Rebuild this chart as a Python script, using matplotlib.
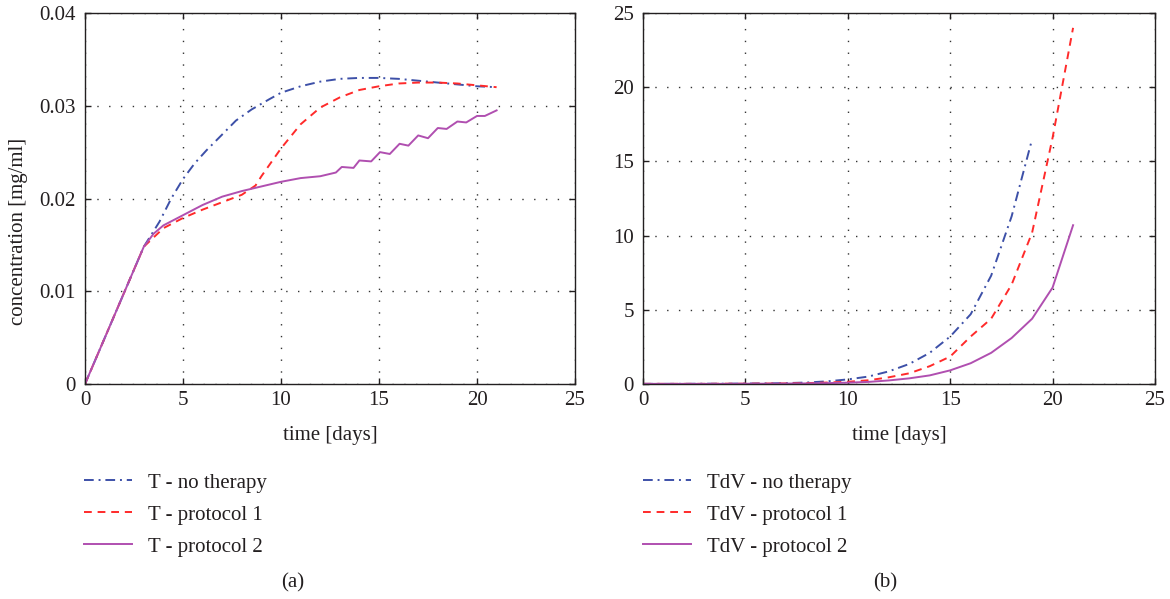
import matplotlib
matplotlib.use('Agg')
import matplotlib.pyplot as plt

# ---- data ----
# (a) T concentration [mg/ml]
t_a_none = [0, 3, 3.8, 4.4, 5, 5.6, 6.2, 7, 7.7, 8.5, 9.4, 10, 11, 12, 13, 14, 15, 16, 17, 18, 19, 20, 21]
T_none = [0, 0.0148, 0.0175, 0.0200, 0.0221, 0.0238, 0.0252, 0.0269, 0.0284, 0.0296, 0.0307, 0.0314,
          0.0321, 0.0326, 0.0329, 0.0330, 0.0330, 0.0329, 0.0327, 0.0325, 0.0323, 0.0321, 0.0320]

t_a_p1 = [0, 3, 4, 5, 6, 7, 8, 8.7, 9, 10, 11, 12, 13, 14, 15, 16, 17, 18, 19, 20, 21]
T_p1 = [0, 0.0148, 0.0168, 0.0179, 0.0188, 0.0196, 0.0204, 0.0214, 0.0224, 0.0254, 0.0280, 0.0298,
        0.0309, 0.0317, 0.0321, 0.0324, 0.0325, 0.0325, 0.0324, 0.0322, 0.0320]

t_a_p2 = [0, 3, 3.5, 4, 5, 6, 7, 8, 9, 10, 11, 12, 12.8, 13.1, 13.7, 14.0, 14.6, 15.05, 15.55, 16.05, 16.5,
          17.0, 17.5, 18.0, 18.45, 19.0, 19.45, 20.0, 20.4, 21.0]
T_p2 = [0, 0.0148, 0.0162, 0.0171, 0.0182, 0.0193, 0.0202, 0.0208, 0.0213, 0.0218, 0.0222, 0.0224, 0.0228,
        0.0234, 0.0233, 0.0241, 0.0240, 0.0250, 0.0248, 0.0259, 0.0257, 0.0268, 0.0265, 0.0276,
        0.0275, 0.0283, 0.0282, 0.0289, 0.0289, 0.0295]

# (b) TdV
t_b_none = list(range(0, 20))
TdV_none = [0.01, 0.01, 0.01, 0.02, 0.02, 0.03, 0.04, 0.06, 0.1, 0.18, 0.31, 0.5, 0.85, 1.35, 2.1,
            3.2, 4.7, 7.3, 11.3, 16.5]
t_b = list(range(0, 22))
TdV_p1 = [0.01, 0.01, 0.01, 0.01, 0.02, 0.02, 0.03, 0.04, 0.06, 0.1, 0.15, 0.25, 0.45, 0.72, 1.2,
          1.85, 3.2, 4.4, 6.7, 10.2, 16.6, 24.0]
TdV_p2 = [0.01, 0.01, 0.01, 0.01, 0.01, 0.02, 0.02, 0.03, 0.04, 0.06, 0.09, 0.14, 0.24, 0.38, 0.58,
          0.92, 1.4, 2.1, 3.1, 4.4, 6.5, 10.7]

x_ticks = [0, 5, 10, 15, 20, 25]
y_ticks_a = [0, 0.01, 0.02, 0.03, 0.04]
y_ticklabels_a = ['0', '0.01', '0.02', '0.03', '0.04']
y_ticks_b = [0, 5, 10, 15, 20, 25]

labels_a = ['T - no therapy', 'T - protocol 1', 'T - protocol 2']
labels_b = ['TdV - no therapy', 'TdV - protocol 1', 'TdV - protocol 2']

# ---- style ----
plt.rcParams['font.family'] = ['Liberation Serif', 'DejaVu Serif']
fs = 15
txt = '#231f20'
c_blue = '#3d50a8'
c_red = '#ff2a2a'
c_purple = '#b04fb0'
lw = 1.4
dashdot = (0, (5, 2.5, 1, 2.5))
dashed = (0, (4, 3))

fig = plt.figure(figsize=(11.7, 5.99), dpi=100)
W, H = 1170, 599
ax1 = fig.add_axes([85 / W, 1 - 384 / H, 490 / W, 371 / H])
ax2 = fig.add_axes([643 / W, 1 - 384 / H, 512 / W, 371 / H])


def style(ax):
    ax.set_xlim(0, 25)
    ax.set_xticks(x_ticks)
    ax.grid(True, color='#333333', linestyle=(0, (1, 7.5)), linewidth=1.0)
    ax.tick_params(direction='in', top=True, right=True, length=4, width=1,
                   colors=txt, labelsize=fs)
    ax.tick_params(axis='y', pad=6.5)
    ax.tick_params(axis='x', pad=5)
    for s in ax.spines.values():
        s.set_linewidth(1.0)
        s.set_color(txt)
    ax.set_xlabel('time [days]', color=txt, fontsize=fs)
    ax.xaxis.set_label_coords(0.5, -0.112)


# (a)
l1, = ax1.plot(t_a_none, T_none, color=c_blue, linestyle=dashdot, lw=lw)
l2, = ax1.plot(t_a_p1, T_p1, color=c_red, linestyle=dashed, lw=lw)
l3, = ax1.plot(t_a_p2, T_p2, color=c_purple, linestyle='-', lw=lw)
style(ax1)
ax1.set_ylim(0, 0.04)
ax1.set_yticks(y_ticks_a)
ax1.set_yticklabels(y_ticklabels_a)
ax1.set_ylabel('concentration [mg/ml]', color=txt, fontsize=fs)
ax1.yaxis.set_label_coords(-0.117, 0.412)

# (b)
m1, = ax2.plot(t_b_none, TdV_none, color=c_blue, linestyle=dashdot, lw=lw)
m2, = ax2.plot(t_b, TdV_p1, color=c_red, linestyle=dashed, lw=lw)
m3, = ax2.plot(t_b, TdV_p2, color=c_purple, linestyle='-', lw=lw)
style(ax2)
ax2.set_ylim(0, 25)
ax2.set_yticks(y_ticks_b)

# legends below each panel
leg_kw = dict(loc='upper left', frameon=False, borderpad=0, borderaxespad=0,
              handlelength=2.3, handletextpad=0.75, labelspacing=0.6, fontsize=fs,
              labelcolor=txt)
fig.legend([l1, l2, l3], labels_a, bbox_to_anchor=(84 / W, 1 - 473 / H), **leg_kw)
fig.legend([m1, m2, m3], labels_b, bbox_to_anchor=(643 / W, 1 - 473 / H), **leg_kw)

fig.text(293 / W, 1 - 583 / H, '(a)', ha='center', va='center', color=txt, fontsize=fs)
fig.text(885 / W, 1 - 583 / H, '(b)', ha='center', va='center', color=txt, fontsize=fs)

fig.savefig('out.png', dpi=100, facecolor='white')
